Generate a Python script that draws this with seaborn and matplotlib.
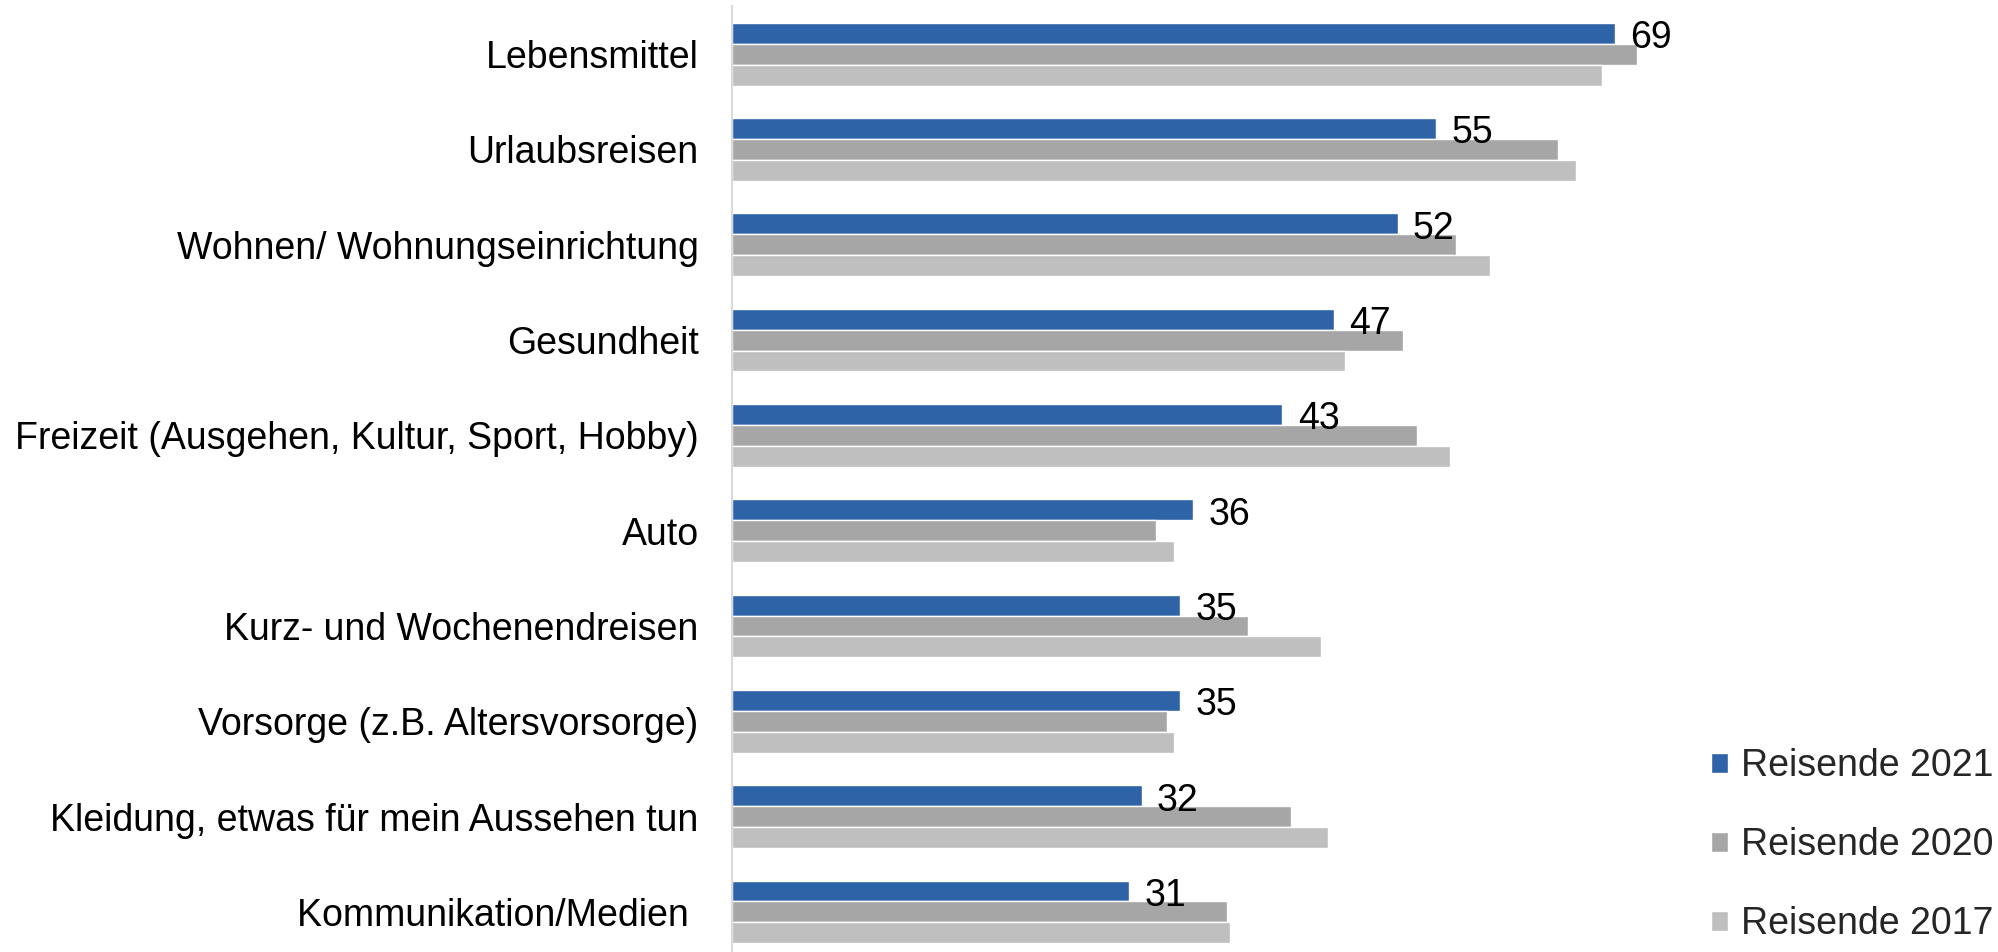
import matplotlib
matplotlib.use("Agg")
import matplotlib.pyplot as plt
import seaborn as sns
import pandas as pd

categories = [
    "Lebensmittel",
    "Urlaubsreisen",
    "Wohnen/ Wohnungseinrichtung",
    "Gesundheit",
    "Freizeit (Ausgehen, Kultur, Sport, Hobby)",
    "Auto",
    "Kurz- und Wochenendreisen",
    "Vorsorge (z.B. Altersvorsorge)",
    "Kleidung, etwas für mein Aussehen tun",
    "Kommunikation/Medien ",
]
series_names = ["Reisende 2021", "Reisende 2020", "Reisende 2017"]
values_2021 = [69, 55, 52, 47, 43, 36, 35, 35, 32, 31]
values_2020 = [70.7, 64.5, 56.6, 52.4, 53.5, 33.1, 40.3, 34.0, 43.7, 38.7]
values_2017 = [68, 65.9, 59.2, 47.9, 56.1, 34.5, 46.0, 34.5, 46.6, 38.9]
colors = ["#2E63A8", "#A6A6A6", "#BFBFBF"]

rows = []
for name, vals in zip(series_names, [values_2021, values_2020, values_2017]):
    for c, v in zip(categories, vals):
        rows.append({"Kategorie": c, "Wert": v, "Serie": name})
df = pd.DataFrame(rows)

sns.set_style("white")
plt.rcParams["font.family"] = ["Liberation Sans", "DejaVu Sans"]

fig = plt.figure(figsize=(19.98, 9.52), dpi=100)
ax = fig.add_axes([732 / 1998, 0.0, (1756 - 732) / 1998, 1 - 6 / 952])

sns.barplot(
    data=df, x="Wert", y="Kategorie", hue="Serie", order=categories,
    hue_order=series_names, palette=colors, orient="h", width=0.66,
    saturation=1, ax=ax, errorbar=None, legend=True,
)

ax.set_xlim(0, 80)
ax.set_ylim(9.42, -0.504)
ax.set_xlabel("")
ax.set_ylabel("")
ax.set_xticks([])
for s in ["top", "right", "bottom"]:
    ax.spines[s].set_visible(False)
ax.spines["left"].set_color("#D9D9D9")
ax.spines["left"].set_linewidth(1.5)
ax.tick_params(axis="y", length=0, pad=24, labelsize=27, labelcolor="black")

anns = ax.bar_label(
    ax.containers[0], labels=[str(v) for v in values_2021], padding=11,
    fontsize=27, color="black",
)
for t in anns:
    t.xyann = (11, -3.5)

handles, labels = ax.get_legend_handles_labels()
ax.get_legend().remove()
fig.legend(
    handles, labels, loc="upper left", bbox_to_anchor=(1711 / 1998, 1 - 748 / 952),
    frameon=False, fontsize=27, handlelength=0.45, handleheight=0.45,
    handletextpad=0.35, labelspacing=1.15, borderpad=0, borderaxespad=0,
)

fig.savefig("out.png", dpi=100)
